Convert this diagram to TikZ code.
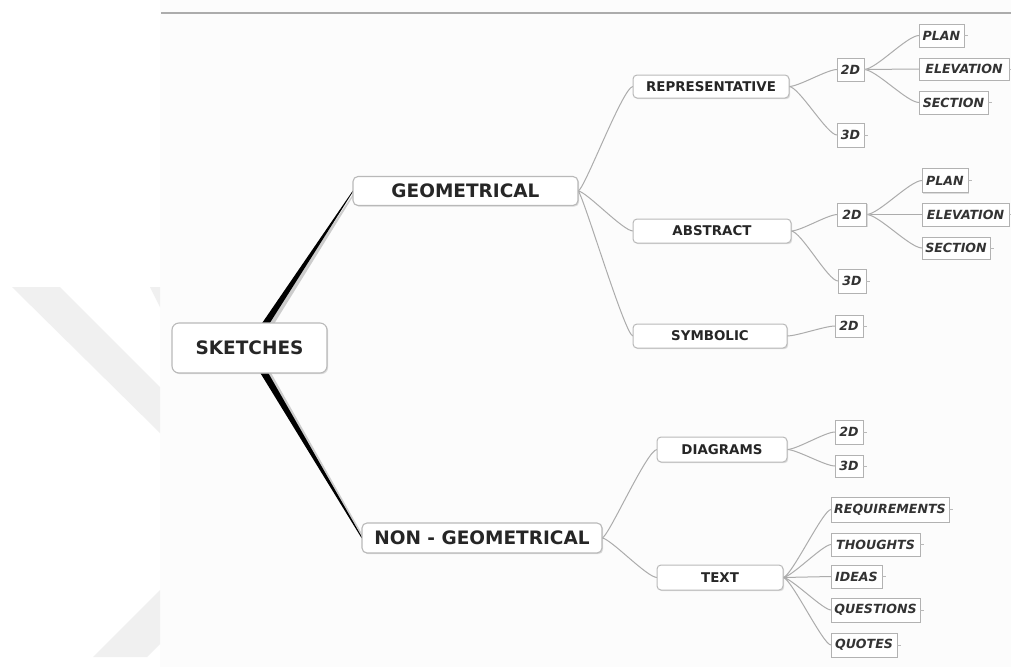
\documentclass[tikz,border=0pt]{standalone}
\usepackage{fontspec}
\setmainfont{DejaVu Sans}
\usetikzlibrary{calc,shadows,backgrounds}

\begin{document}
\begin{tikzpicture}[x=1pt,y=-1pt,
  every node/.style={inner sep=0pt, outer sep=0pt},
  softshadow/.style={drop shadow={shadow xshift=1.2pt, shadow yshift=-1.2pt, opacity=0.25, fill=gray}},
  rootbox/.style={draw=gray!55, line width=1.1pt, fill=white, rounded corners=7pt,
    font=\bfseries\fontsize{18.5}{20}\selectfont, text=black!85, softshadow},
  mainbox/.style={draw=gray!55, line width=1.1pt, fill=white, rounded corners=5pt,
    font=\bfseries\fontsize{18.5}{20}\selectfont, text=black!85, softshadow},
  subbox/.style={draw=gray!55, line width=1pt, fill=white, rounded corners=4pt,
    font=\bfseries\fontsize{13.4}{15}\selectfont, text=black!85, softshadow},
  leafbox/.style={draw=gray!60, line width=1pt, fill=white,
    font=\bfseries\itshape\fontsize{12.6}{14}\selectfont, text=black!80, softshadow},
  link/.style={draw=gray!65, line width=1pt},
  stub/.style={draw=gray!55, line width=0.8pt},
]
\useasboundingbox (0,0) rectangle (1011,667);

% root and main branches
\node[rootbox, minimum width=155, minimum height=50] (sk) at (249.5,348) {SKETCHES};
\node[mainbox, minimum width=225, minimum height=29] (geo) at (465.5,191) {GEOMETRICAL};
\node[mainbox, minimum width=240, minimum height=30] (ngeo) at (482,538) {NON - GEOMETRICAL};

% second level
\node[subbox, minimum width=156, minimum height=23] (rep) at (711,86.5) {REPRESENTATIVE};
\node[subbox, minimum width=158, minimum height=24] (abs) at (712,231) {ABSTRACT};
\node[subbox, minimum width=154, minimum height=24] (sym) at (710,336) {SYMBOLIC};
\node[subbox, minimum width=130, minimum height=25] (dia) at (722,449.5) {DIAGRAMS};
\node[subbox, minimum width=126, minimum height=25] (txt) at (720,577.5) {TEXT};

% leaves
\node[leafbox, minimum width=27, minimum height=23] (r2d) at (850.5,69.5) {2D};
\node[leafbox, minimum width=27, minimum height=24] (r3d) at (850.5,135) {3D};
\node[leafbox, minimum width=45, minimum height=23] (rplan) at (941.5,35.5) {PLAN};
\node[leafbox, minimum width=90, minimum height=22] (relev) at (964,69) {ELEVATION};
\node[leafbox, minimum width=69, minimum height=23] (rsec) at (953.5,102.5) {SECTION};

\node[leafbox, minimum width=29, minimum height=23] (a2d) at (852,214.5) {2D};
\node[leafbox, minimum width=28, minimum height=24] (a3d) at (852,281) {3D};
\node[leafbox, minimum width=46, minimum height=24] (aplan) at (945,180.5) {PLAN};
\node[leafbox, minimum width=87, minimum height=23] (aelev) at (965.5,214.5) {ELEVATION};
\node[leafbox, minimum width=68, minimum height=22] (asec) at (956,248) {SECTION};

\node[leafbox, minimum width=28, minimum height=22] (s2d) at (849,326) {2D};

\node[leafbox, minimum width=28, minimum height=24] (d2d) at (849,432) {2D};
\node[leafbox, minimum width=28, minimum height=22] (d3d) at (849,466) {3D};

\node[leafbox, minimum width=118, minimum height=25] (req) at (890,509.5) {REQUIREMENTS};
\node[leafbox, minimum width=89, minimum height=23] (tho) at (875.5,544.5) {THOUGHTS};
\node[leafbox, minimum width=51, minimum height=23] (ide) at (856.5,576.5) {IDEAS};
\node[leafbox, minimum width=89, minimum height=24] (que) at (875.5,610) {QUESTIONS};
\node[leafbox, minimum width=66, minimum height=24] (quo) at (864,645) {QUOTES};

% expand stubs on the right of each leaf
\foreach \n in {r2d,r3d,rplan,relev,rsec,a2d,a3d,aplan,aelev,asec,s2d,d2d,d3d,req,tho,ide,que,quo}
  \draw[stub] (\n.east) -- ++(4,0);

\begin{scope}[on background layer]
  % page background and header rule
  \fill[white] (0,0) rectangle (1011,667);
  \fill[gray!2] (160,0) rectangle (1011,667);
  \draw[gray!65, line width=2.2pt] (161,13) -- (1011,13);

  % faint emblem at the left margin
  \fill[gray!12] (12,287) -- (60,287) -- (160,387) -- (160,433) -- cycle;
  \fill[gray!12] (150,287) -- (160,287) -- (160,307) -- cycle;
  \fill[gray!12] (93,657) -- (147,657) -- (160,644) -- (160,590) -- cycle;

  % tapered trunks from the root
  \fill[gray!40] ($(sk.center)+(-1,1)$) -- ($(geo.west)+(1.5,1)$) -- ($(geo.west)+(1.5,3)$) -- ($(sk.center)+(9,1)$) -- cycle;
  \fill[black] ($(sk.center)+(-4.5,0)$) -- ($(geo.west)+(0,-0.6)$) -- ($(geo.west)+(0,0.6)$) -- ($(sk.center)+(4.5,0)$) -- cycle;
  \fill[gray!40] ($(sk.center)+(-1,1)$) -- ($(ngeo.west)+(1.5,0.5)$) -- ($(ngeo.west)+(1.5,-1.5)$) -- ($(sk.center)+(8,1)$) -- cycle;
  \fill[black] ($(sk.center)+(-4.5,0)$) -- ($(ngeo.west)+(-0.5,0)$) -- ($(ngeo.west)+(0.5,0)$) -- ($(sk.center)+(4.5,0)$) -- cycle;

  % GEOMETRICAL branch
  \draw[link] (geo.east) .. controls +(6,0) and +(-10,0) .. (rep.west);
  \draw[link] (geo.east) .. controls +(8,0) and +(-10,0) .. (abs.west);
  \draw[link] (geo.east) .. controls +(4,0) and +(-8,0) .. (sym.west);

  \draw[link] (rep.east) .. controls +(10,0) and +(-10,0) .. (r2d.west);
  \draw[link] (rep.east) .. controls +(10,0) and +(-10,0) .. (r3d.west);
  \draw[link] (r2d.east) .. controls +(12,0) and +(-12,0) .. (rplan.west);
  \draw[link] (r2d.east) -- (relev.west);
  \draw[link] (r2d.east) .. controls +(12,0) and +(-12,0) .. (rsec.west);

  \draw[link] (abs.east) .. controls +(10,0) and +(-10,0) .. (a2d.west);
  \draw[link] (abs.east) .. controls +(10,0) and +(-10,0) .. (a3d.west);
  \draw[link] (a2d.east) .. controls +(12,0) and +(-12,0) .. (aplan.west);
  \draw[link] (a2d.east) -- (aelev.west);
  \draw[link] (a2d.east) .. controls +(12,0) and +(-12,0) .. (asec.west);

  \draw[link] (sym.east) .. controls +(10,0) and +(-10,0) .. (s2d.west);

  % NON - GEOMETRICAL branch
  \draw[link] (ngeo.east) .. controls +(6,0) and +(-10,0) .. (dia.west);
  \draw[link] (ngeo.east) .. controls +(8,0) and +(-10,0) .. (txt.west);

  \draw[link] (dia.east) .. controls +(10,0) and +(-10,0) .. (d2d.west);
  \draw[link] (dia.east) .. controls +(10,0) and +(-10,0) .. (d3d.west);

  \draw[link] (txt.east) .. controls +(8,0) and +(-8,0) .. (req.west);
  \draw[link] (txt.east) .. controls +(8,0) and +(-8,0) .. (tho.west);
  \draw[link] (txt.east) -- (ide.west);
  \draw[link] (txt.east) .. controls +(8,0) and +(-8,0) .. (que.west);
  \draw[link] (txt.east) .. controls +(8,0) and +(-8,0) .. (quo.west);
\end{scope}
\end{tikzpicture}
\end{document}
